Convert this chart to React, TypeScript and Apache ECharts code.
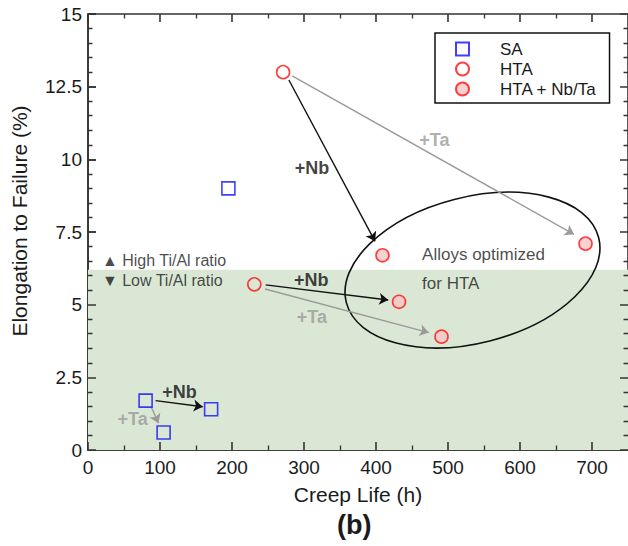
import React, { useEffect, useRef } from "react";
import * as echarts from "echarts";

const FONT = "'Liberation Sans', Arial, Helvetica, sans-serif";

// Axis ranges / ticks
const xMin = 0, xMax = 750, xInterval = 100;
const yMin = 0, yMax = 15, yInterval = 2.5;
const xMajorTicks = [0, 100, 200, 300, 400, 500, 600, 700];
const xMinorTicks = [50, 150, 250, 350, 450, 550, 650];
const yMajorTicks = [0, 2.5, 5, 7.5, 10, 12.5, 15];
const yMinorTicks = [
  0.5, 1, 1.5, 2, 3, 3.5, 4, 4.5, 5.5, 6, 6.5, 7, 8, 8.5, 9, 9.5,
  10.5, 11, 11.5, 12, 13, 13.5, 14, 14.5,
];

// Series data (Creep life h, Elongation %)
const saX = [195, 80, 105, 171];
const saY = [9.0, 1.7, 0.6, 1.4];
const htaX = [271, 231];
const htaY = [13.0, 5.7];
const nbtaX = [409, 691, 432, 491];
const nbtaY = [6.7, 7.1, 5.1, 3.9];

// Shaded region upper bound
const shadeTop = 6.2;

// Arrows: [startX, startY, endX, endY]
const nbArrows = [
  [279, 12.73, 398.7, 7.18],
  [246.8, 5.68, 417, 5.16],
  [93.9, 1.7, 159.3, 1.49],
];
const taArrows = [
  [283.6, 12.87, 675, 7.42],
  [245.9, 5.54, 473.3, 4.04],
  [88, 1.47, 98, 0.92],
];

// Arrow labels
const arrowLabelText = ["+Nb", "+Ta", "+Nb", "+Ta", "+Nb", "+Ta"];
const arrowLabelX = [311, 481, 310, 311, 127, 62];
const arrowLabelY = [9.7, 10.66, 5.85, 4.59, 2.01, 1.07];

// Left-aligned notes
const noteText = ["Alloys optimized", "for HTA", "▲ High Ti/Al ratio", "▼ Low Ti/Al ratio"];
const noteX = [464, 464, 19.3, 19.3];
const noteY = [6.71, 5.74, 6.51, 5.82];

// Ellipse annotation (center in data units, radii in data units, tilt degrees)
const ellipseCenter = [534, 6.19];
const ellipseRx = 181; // hours
const ellipseRy = 2.51; // %
const ellipseTilt = 14.5;

const legendNames = ["SA", "HTA", "HTA + Nb/Ta"];

const axisColor = "#333";
const textColor = "#1a1a1a";
const gray = "#9a9a9a";

// Plot size in px (used for tick lengths)
const GRID_W = 543;
const GRID_H = 436;
const MAJOR_LEN_PX = 8;
const MINOR_LEN_PX = 4.5;

function pairs(xs: number[], ys: number[]) {
  return xs.map((x, i) => [x, ys[i]]);
}

function tickLines(xs: number[], ys: number[], lenPx: number) {
  const dx = (lenPx * (xMax - xMin)) / GRID_W;
  const dy = (lenPx * (yMax - yMin)) / GRID_H;
  const out: any[] = [];
  xs.forEach((v) => {
    out.push({ coords: [[v, yMin], [v, yMin + dy]] });
    out.push({ coords: [[v, yMax], [v, yMax - dy]] });
  });
  ys.forEach((v) => {
    out.push({ coords: [[xMin, v], [xMin + dx, v]] });
    out.push({ coords: [[xMax, v], [xMax - dx, v]] });
  });
  return out;
}

export default function App() {
  const ref = useRef<HTMLDivElement>(null);
  useEffect(() => {
    document.body.style.margin = "0";
    if (!ref.current) return;
    const chart = echarts.init(ref.current, undefined, { renderer: "svg" });
    const option: any = {
      animation: false,
      textStyle: { fontFamily: FONT },
      title: {
        text: "(b)",
        left: 332,
        top: 506,
        textStyle: { fontSize: 27, fontWeight: "bold", color: textColor, fontFamily: FONT },
      },
      grid: {
        left: 88,
        top: 14,
        width: GRID_W,
        height: GRID_H,
        show: true,
        borderColor: axisColor,
        borderWidth: 1.6,
        backgroundColor: "rgba(0,0,0,0)",
      },
      legend: {
        data: legendNames,
        orient: "vertical",
        left: 435,
        top: 33,
        borderColor: "#111",
        borderWidth: 1.5,
        padding: [6, 13, 4, 20],
        itemWidth: 13,
        itemHeight: 13,
        itemGap: 0,
        selectedMode: false,
        textStyle: { fontSize: 17, color: textColor, lineHeight: 20, padding: [0, 0, 0, 26], fontFamily: FONT },
      },
      xAxis: {
        type: "value",
        min: xMin,
        max: xMax,
        interval: xInterval,
        axisLine: { show: true, lineStyle: { color: axisColor, width: 1.6 } },
        axisTick: { show: true, inside: true, length: MAJOR_LEN_PX, lineStyle: { color: axisColor, width: 1.6 } },
        splitLine: { show: false },
        axisLabel: { fontSize: 19, color: textColor, margin: 8, showMaxLabel: false, fontFamily: FONT },
        name: "Creep Life (h)",
        nameLocation: "middle",
        nameGap: 34,
        nameTextStyle: { fontSize: 21, color: textColor, fontFamily: FONT },
      },
      yAxis: {
        type: "value",
        min: yMin,
        max: yMax,
        interval: yInterval,
        axisLine: { show: true, lineStyle: { color: axisColor, width: 1.6 } },
        axisTick: { show: true, inside: true, length: MAJOR_LEN_PX, lineStyle: { color: axisColor, width: 1.6 } },
        splitLine: { show: false },
        axisLabel: { fontSize: 19, color: textColor, margin: 6, fontFamily: FONT },
        name: "Elongation to Failure (%)",
        nameLocation: "middle",
        nameGap: 58,
        nameTextStyle: { fontSize: 21, color: textColor, fontFamily: FONT, padding: [0, 0, 0, 22] },
      },
      series: [
        {
          name: "shade",
          type: "scatter",
          data: [],
          z: 0,
          silent: true,
          markArea: {
            silent: true,
            itemStyle: { color: "#d9e7d4" },
            data: [[{ coord: [xMin, 0] }, { coord: [xMax, shadeTop] }]],
          },
        },
        {
          name: "majorTicks",
          type: "lines",
          coordinateSystem: "cartesian2d",
          z: 5,
          silent: true,
          symbol: "none",
          lineStyle: { color: axisColor, width: 1.6, opacity: 1 },
          data: tickLines(xMajorTicks, yMajorTicks, MAJOR_LEN_PX),
        },
        {
          name: "minorTicks",
          type: "lines",
          coordinateSystem: "cartesian2d",
          z: 5,
          silent: true,
          symbol: "none",
          lineStyle: { color: axisColor, width: 1.3, opacity: 1 },
          data: tickLines(xMinorTicks, yMinorTicks, MINOR_LEN_PX),
        },
        {
          name: "ellipse",
          type: "custom",
          z: 2,
          silent: true,
          data: [ellipseCenter],
          renderItem: (params: any, api: any) => {
            const c = api.coord([api.value(0), api.value(1)]);
            const sx = api.size([1, 0])[0];
            const sy = api.size([0, 1])[1];
            return {
              type: "ellipse",
              x: c[0],
              y: c[1],
              rotation: (ellipseTilt * Math.PI) / 180,
              shape: { cx: 0, cy: 0, rx: ellipseRx * sx, ry: ellipseRy * sy },
              style: { fill: "none", stroke: "#111", lineWidth: 1.6 },
            };
          },
        },
        {
          name: "nbArrows",
          type: "lines",
          coordinateSystem: "cartesian2d",
          z: 3,
          silent: true,
          symbol: ["none", "arrow"],
          symbolSize: 9,
          lineStyle: { color: "#111", width: 1.4, opacity: 1 },
          data: nbArrows.map((a) => ({ coords: [[a[0], a[1]], [a[2], a[3]]] })),
        },
        {
          name: "taArrows",
          type: "lines",
          coordinateSystem: "cartesian2d",
          z: 3,
          silent: true,
          symbol: ["none", "arrow"],
          symbolSize: 9,
          lineStyle: { color: gray, width: 1.4, opacity: 1 },
          data: taArrows.map((a) => ({ coords: [[a[0], a[1]], [a[2], a[3]]] })),
        },
        {
          name: "SA",
          type: "scatter",
          z: 4,
          symbol: "rect",
          symbolSize: 13,
          itemStyle: { color: "rgba(0,0,0,0)", borderColor: "#1010ff", borderWidth: 1.6 },
          data: pairs(saX, saY),
        },
        {
          name: "HTA",
          type: "scatter",
          z: 4,
          symbol: "circle",
          symbolSize: 13,
          itemStyle: { color: "rgba(0,0,0,0)", borderColor: "#ff1010", borderWidth: 1.6 },
          data: pairs(htaX, htaY),
        },
        {
          name: "HTA + Nb/Ta",
          type: "scatter",
          z: 4,
          symbol: "circle",
          symbolSize: 13,
          itemStyle: { color: "#f8c6c6", borderColor: "#ff1010", borderWidth: 1.6 },
          data: pairs(nbtaX, nbtaY),
        },
        {
          name: "arrowLabels",
          type: "scatter",
          z: 6,
          silent: true,
          symbolSize: 0,
          data: arrowLabelText.map((t, i) => ({
            value: [arrowLabelX[i], arrowLabelY[i]],
            label: {
              show: true,
              formatter: t,
              position: "inside",
              fontSize: 18,
              fontWeight: "bold",
              fontFamily: FONT,
              color: t === "+Nb" ? "#111" : gray,
            },
          })),
        },
        {
          name: "notes",
          type: "scatter",
          z: 6,
          silent: true,
          symbolSize: 0,
          data: noteText.map((t, i) => ({
            value: [noteX[i], noteY[i]],
            label: {
              show: true,
              formatter: t,
              position: "right",
              distance: 0,
              fontSize: i < 2 ? 17 : 16,
              fontFamily: FONT,
              color: textColor,
            },
          })),
        },
      ],
    };
    chart.setOption(option);
    return () => chart.dispose();
  }, []);
  return <div ref={ref} style={{ width: 628, height: 546 }} />;
}
